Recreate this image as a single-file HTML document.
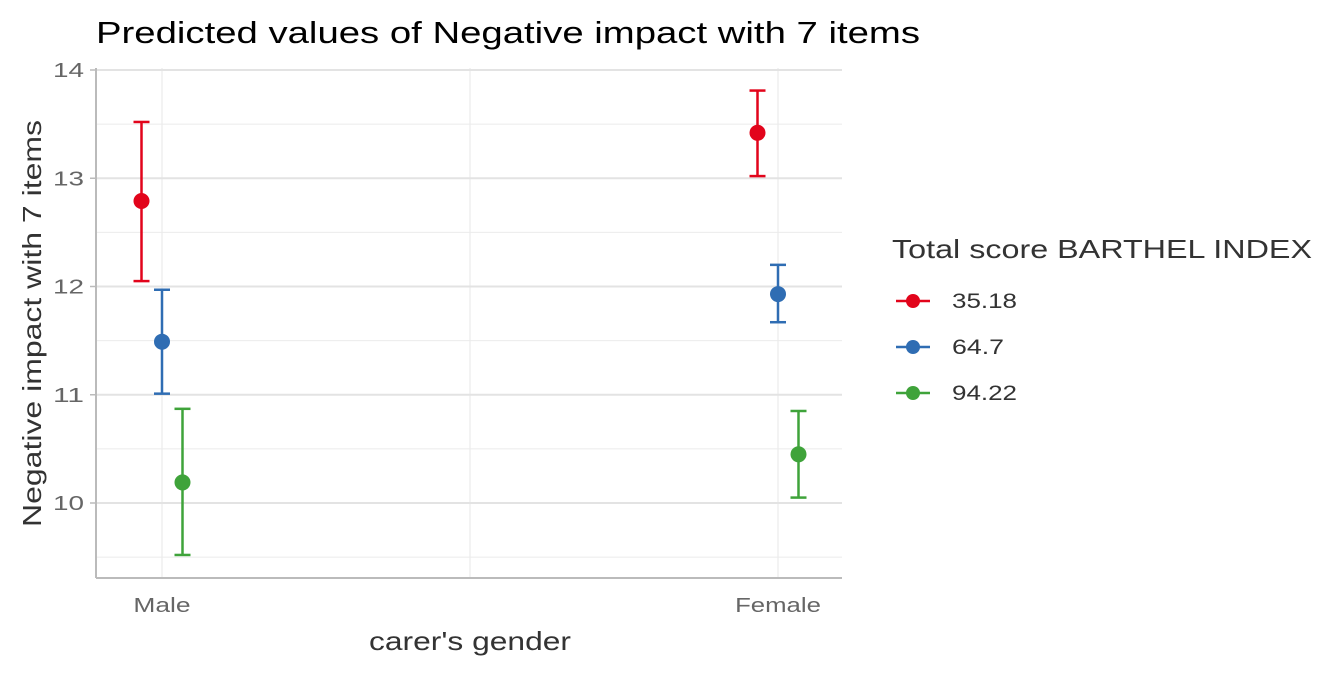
<!DOCTYPE html>
<html><head><meta charset="utf-8"><style>
html,body{margin:0;padding:0;background:#fff;}
svg text{font-family:"Liberation Sans",sans-serif;}
</style></head><body>
<svg id="chart" width="1344" height="672" xmlns="http://www.w3.org/2000/svg">
<text x="96" y="43" font-size="31" fill="#000" textLength="824" lengthAdjust="spacingAndGlyphs">Predicted values of Negative impact with 7 items</text>
<g id="grid"></g>
<g id="axes"></g>
<g id="marks"></g>
<text x="369" y="650" font-size="26" fill="#333" textLength="202" lengthAdjust="spacingAndGlyphs">carer's gender</text>
<text transform="translate(41,527) rotate(-90)" font-size="26" fill="#333" textLength="407" lengthAdjust="spacingAndGlyphs">Negative impact with 7 items</text>
<g id="legend">
<text x="892" y="258" font-size="26" fill="#333" textLength="420" lengthAdjust="spacingAndGlyphs">Total score BARTHEL INDEX</text>
</g>
</svg>
<script>
const categories = ["Male","Female"];
const groups = ["35.18","64.7","94.22"];
const colors = ["#e2041b","#2f6db3","#3fa33a"];
const predicted = [[12.79,13.42],[11.49,11.93],[10.19,10.45]];
const ciLow = [[12.05,13.02],[11.01,11.67],[9.52,10.05]];
const ciHigh = [[13.52,13.81],[11.97,12.20],[10.87,10.85]];
const yTicks = [10,11,12,13,14];
const yMinor = [9.5,10.5,11.5,12.5,13.5];

const NS="http://www.w3.org/2000/svg";
const X0=96,X1=842,Y0=68,Y1=578;
const y = v => 503 - (v-10)*108.25;
const xc = i => 162 + i*616;
const dodge = g => (g-1)*20.5;
function el(tag,attrs,parent){const e=document.createElementNS(NS,tag);for(const k in attrs)e.setAttribute(k,attrs[k]);parent.appendChild(e);return e;}
const grid=document.getElementById('grid'),axes=document.getElementById('axes'),marks=document.getElementById('marks'),legend=document.getElementById('legend');
yMinor.forEach(v=>{const l=el('line',{x1:X0,x2:X1,y1:y(v),y2:y(v),stroke:'#ebebeb','stroke-width':1},grid);

});
[162,470,778].forEach(px=>{const l=el('line',{x1:px,x2:px,y1:Y0,y2:Y1,stroke:'#ebebeb','stroke-width':1.2},grid);

});
yTicks.forEach(v=>{const l=el('line',{x1:X0,x2:X1,y1:y(v),y2:y(v),stroke:'#e3e3e3','stroke-width':2},grid);


const t=el('text',{x:84,y:y(v)+7,'font-size':20,fill:'#666','text-anchor':'end',textLength:31,lengthAdjust:'spacingAndGlyphs'},axes);t.textContent=v;


const tk=el('line',{x1:90,x2:96,y1:y(v),y2:y(v),stroke:'#bbb','stroke-width':1.5},axes);

});
let a=el('line',{x1:X0,x2:X0,y1:Y0,y2:Y1,stroke:'#bbb','stroke-width':2},axes);


a=el('line',{x1:X0,x2:X1,y1:Y1,y2:Y1,stroke:'#bbb','stroke-width':2},axes);


categories.forEach((c,i)=>{const t=el('text',{x:xc(i),y:612,'font-size':20,fill:'#666','text-anchor':'middle',textLength:c.length*14.3,lengthAdjust:'spacingAndGlyphs'},axes);t.textContent=c;

});
groups.forEach((g,gi)=>{categories.forEach((c,i)=>{const px=xc(i)+dodge(gi);
const gg=el('g',{},marks);


const s={stroke:colors[gi],'stroke-width':2.5};
el('line',Object.assign({x1:px,x2:px,y1:y(ciLow[gi][i]),y2:y(ciHigh[gi][i])},s),gg);
el('line',Object.assign({x1:px-8,x2:px+8,y1:y(ciLow[gi][i]),y2:y(ciLow[gi][i])},s),gg);
el('line',Object.assign({x1:px-8,x2:px+8,y1:y(ciHigh[gi][i]),y2:y(ciHigh[gi][i])},s),gg);
el('circle',{cx:px,cy:y(predicted[gi][i]),r:8,fill:colors[gi]},gg);});
const ly=301+gi*46;
const lg=el('g',{},legend);


el('line',{x1:896,x2:930,y1:ly,y2:ly,stroke:colors[gi],'stroke-width':2.5},lg);
el('circle',{cx:913,cy:ly,r:7,fill:colors[gi]},lg);
const t=el('text',{x:952,y:ly+7,'font-size':21,fill:'#333',textLength:g.length*13,lengthAdjust:'spacingAndGlyphs'},lg);t.textContent=g;});
</script>
</body></html>
